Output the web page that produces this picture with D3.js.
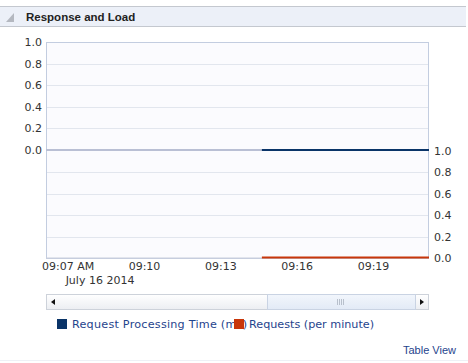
<!DOCTYPE html>
<html>
<head>
<meta charset="utf-8">
<script src="https://cdn.jsdelivr.net/npm/d3@7"></script>
<style>
  body { margin: 0; background: #fff; }
  svg { display: block; }
</style>
</head>
<body>
<svg id="chart" width="468" height="363"></svg>
<script>
// chart values
const times = ["09:14:38", "09:15:38", "09:16:38", "09:17:38", "09:18:38", "09:19:38", "09:20:38", "09:21:12"];
const processingTime = [0, 0, 0, 0, 0, 0, 0, 0];
const requests = [0, 0, 0, 0, 0, 0, 0, 0];
const tickTimes = ["09:07", "09:10", "09:13", "09:16", "09:19"];
const tickLabels = ["09:07 AM", "09:10", "09:13", "09:16", "09:19"];
const yTicks = [0, 0.2, 0.4, 0.6, 0.8, 1.0];
const seriesNames = ["Request Processing Time (ms)", "Requests (per minute)"];
const seriesColors = ["#0a3468", "#c8360a"];

const parse = d3.timeParse("%Y-%m-%d %H:%M:%S");
const t = s => parse("2014-07-16 " + (s.length === 5 ? s + ":00" : s));

const svg = d3.select("#chart");
const left = 46, right = 429, top1 = 42, bot1 = 150, top2 = 151, bot2 = 258;

// header band
svg.append("rect").attr("x", 0).attr("y", 6).attr("width", 466).attr("height", 21)
  .attr("fill", "#ecf0f8");
svg.append("line").attr("x1", 0).attr("x2", 466).attr("y1", 6.5).attr("y2", 6.5).attr("stroke", "#c4c8cf");
svg.append("line").attr("x1", 0).attr("x2", 466).attr("y1", 26.5).attr("y2", 26.5).attr("stroke", "#c4c8cf");
svg.append("path").attr("d", "M6,22 L14,22 L14,13 Z").attr("fill", "#b4b8c0");
svg.append("text").attr("x", 26).attr("y", 21)
  .attr("font-family", "Liberation Sans, Arial, sans-serif").attr("font-size", 11.5)
  .attr("font-weight", "bold").attr("fill", "#222").text("Response and Load");

const x = d3.scaleTime().domain([t("09:06:09"), t("09:21:12")]).range([left, right]);
const y1 = d3.scaleLinear().domain([0, 1]).range([bot1, top1]);
const y2 = d3.scaleLinear().domain([0, 1]).range([bot2, top2]);

// plot background
svg.append("rect").attr("x", left).attr("y", top1).attr("width", right - left).attr("height", bot2 - top1)
  .attr("fill", "#fbfbfe");

// grid
const grid = svg.append("g").attr("stroke", "#e2e6ee");
yTicks.slice(1, 5).forEach(v => {
  grid.append("line").attr("x1", left).attr("x2", right).attr("y1", Math.round(y1(v)) + 0.5).attr("y2", Math.round(y1(v)) + 0.5);
  grid.append("line").attr("x1", left).attr("x2", right).attr("y1", Math.round(y2(v)) + 0.5).attr("y2", Math.round(y2(v)) + 0.5);
});

// border
svg.append("rect").attr("x", left + 0.5).attr("y", top1 + 0.5).attr("width", right - left - 1).attr("height", bot2 - top1)
  .attr("fill", "none").attr("stroke", "#c3cde0");

// zero baselines
svg.append("line").attr("x1", left).attr("x2", right).attr("y1", y1(0)).attr("y2", y1(0))
  .attr("stroke", "#b9bfd4").attr("stroke-width", 2);
svg.append("line").attr("x1", left).attr("x2", right).attr("y1", y2(0)).attr("y2", y2(0))
  .attr("stroke", "#c9cedc").attr("stroke-width", 1);

// series
const line1 = d3.line().x((d, i) => x(t(times[i]))).y(d => y1(d));
const line2 = d3.line().x((d, i) => x(t(times[i]))).y(d => y2(d) - 0.5);
svg.append("path").attr("d", line1(processingTime)).attr("fill", "none")
  .attr("stroke", seriesColors[0]).attr("stroke-width", 2);
svg.append("path").attr("d", line2(requests)).attr("fill", "none")
  .attr("stroke", seriesColors[1]).attr("stroke-width", 2);

// axes
const font = "DejaVu Sans, sans-serif";
const fmt = d3.format(".1f");
const ya1 = svg.append("g").attr("transform", `translate(${left - 4},0)`)
  .call(d3.axisLeft(y1).tickValues(yTicks).tickFormat(fmt).tickSize(0).tickPadding(0));
const ya2 = svg.append("g").attr("transform", `translate(${right + 5},0)`)
  .call(d3.axisRight(y2).tickValues(yTicks).tickFormat(fmt).tickSize(0).tickPadding(0));
const xa = svg.append("g").attr("transform", `translate(0,${bot2 + 4})`)
  .call(d3.axisBottom(x).tickValues(tickTimes.map(t)).tickFormat((d, i) => tickLabels[i]).tickSize(0).tickPadding(0));
[ya1, ya2, xa].forEach(g => {
  g.select(".domain").remove();
  g.selectAll("text").attr("font-family", font).attr("font-size", 11).attr("fill", "#333");
});
svg.append("text").attr("x", x(t(tickTimes[0])) - 2).attr("y", 284)
  .attr("font-family", font).attr("font-size", 11).attr("fill", "#333").text("July 16 2014");

// scrollbar
const defs = svg.append("defs");
const g1 = defs.append("linearGradient").attr("id", "track").attr("x1", 0).attr("x2", 0).attr("y1", 0).attr("y2", 1);
g1.append("stop").attr("offset", 0).attr("stop-color", "#ffffff");
g1.append("stop").attr("offset", 1).attr("stop-color", "#eceef2");
const g2 = defs.append("linearGradient").attr("id", "thumb").attr("x1", 0).attr("x2", 0).attr("y1", 0).attr("y2", 1);
g2.append("stop").attr("offset", 0).attr("stop-color", "#f2f6fc");
g2.append("stop").attr("offset", 1).attr("stop-color", "#e2eaf6");
svg.append("rect").attr("x", left + 0.5).attr("y", 294.5).attr("width", right - left - 1).attr("height", 15)
  .attr("fill", "url(#track)").attr("stroke", "#cdd2da");
svg.append("rect").attr("x", 267.5).attr("y", 294.5).attr("width", 148).attr("height", 15)
  .attr("fill", "url(#thumb)").attr("stroke", "#c9d3e3");
for (let i = 0; i < 4; i++) {
  svg.append("line").attr("x1", 337.5 + i * 2).attr("x2", 337.5 + i * 2).attr("y1", 299).attr("y2", 305)
    .attr("stroke", "#b8c0cc");
}
svg.append("path").attr("d", "M51,302 L55,299 L55,305 Z").attr("fill", "#111");
svg.append("path").attr("d", "M424,302 L420,299 L420,305 Z").attr("fill", "#111");

// legend
const legend = svg.append("g");
const lx = [57, 234];
const lw = [175, 125];
seriesNames.forEach((name, i) => {
  legend.append("text").attr("x", lx[i] + 15).attr("y", 328)
    .attr("font-family", font).attr("font-size", 11.2).attr("fill", "#1f448d")
    .attr("textLength", lw[i]).attr("lengthAdjust", "spacing").text(name);
});
seriesNames.forEach((name, i) => {
  legend.append("rect").attr("x", lx[i]).attr("y", 319).attr("width", 10).attr("height", 10)
    .attr("fill", seriesColors[i]);
});

svg.append("text").attr("x", 456).attr("y", 354).attr("text-anchor", "end")
  .attr("font-family", "Liberation Sans, Arial, sans-serif").attr("font-size", 11)
  .attr("fill", "#1f448d").text("Table View");
svg.append("line").attr("x1", 0).attr("x2", 468).attr("y1", 360.5).attr("y2", 360.5).attr("stroke", "#eef1f6");
</script>
</body>
</html>
